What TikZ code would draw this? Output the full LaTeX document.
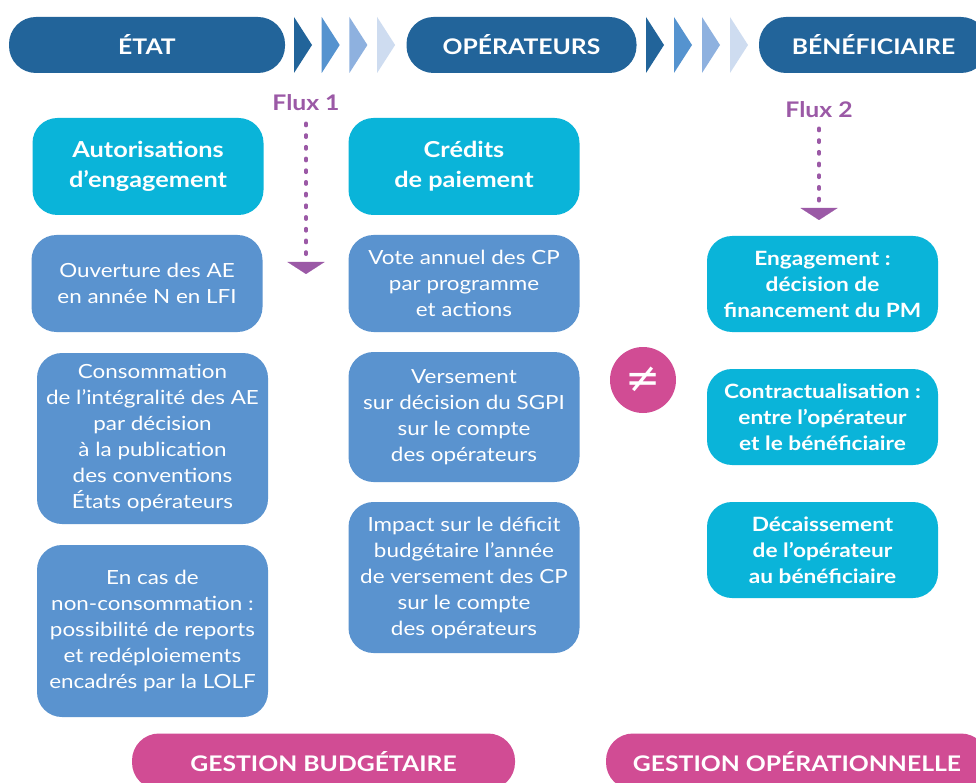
\documentclass[tikz,border=0pt]{standalone}
\usepackage{fontspec}
\setmainfont{Lato}[FakeStretch=1.15]
\newfontfamily\symfont{DejaVu Sans}
\usetikzlibrary{arrows.meta}
\definecolor{etatblue}{HTML}{22649A}
\definecolor{chevb}{HTML}{5593CF}
\definecolor{chevc}{HTML}{8EB1DF}
\definecolor{chevd}{HTML}{CEDCF0}
\definecolor{cyanbox}{HTML}{0AB4D9}
\definecolor{bluebox}{HTML}{5A93CF}
\definecolor{fluxpurple}{HTML}{9B59A6}
\definecolor{gestpink}{HTML}{D14C94}
\tikzset{
	bar/.style 2 args={fill=#1,rounded corners=27pt,minimum width=#2,minimum height=56pt,inner sep=0pt,text=white,font=\fontsize{21.5}{25}\selectfont\bfseries},
	blk/.style 2 args={fill=#1,rounded corners=25pt,minimum width=231pt,minimum height=#2,inner sep=0pt,text=white,align=center,font=\fontsize{19.5}{26}\selectfont},
	hd/.style={font=\fontsize{22}{30}\selectfont\bfseries},
	rb/.style={font=\fontsize{19.7}{26}\selectfont\bfseries},
	fluxlbl/.style={text=fluxpurple,inner sep=2pt,font=\fontsize{21.5}{24}\selectfont\bfseries},
	fluxline/.style={draw=fluxpurple,line width=3.5pt,line cap=round,dash pattern=on 2.3pt off 9.4pt,-{Triangle[width=37pt,length=12pt,line width=0.1pt]}}
}
\begin{document}
\begin{tikzpicture}[x=1pt,y=-1pt]
	\clip (0,0) rectangle (976,783);
	\fill[white] (0,0) rectangle (976,783);

	\node [bar={etatblue}{276pt}] (etat) at (147,45) {ÉTAT};
	\node [bar={etatblue}{230pt}] (oper) at (521.5,45) {OPÉRATEURS};
	\node [bar={etatblue}{229pt}] (benef) at (873.5,45) {BÉNÉFICIAIRE};
	\foreach \c [count=\i] in {etatblue,chevb,chevc,chevd} {
		\fill[\c] ({294+27.7*(\i-1)},17) -- ++(18,28) -- ++(-18,28) -- cycle;
		\fill[\c] ({646+28*(\i-1)},17) -- ++(18,28) -- ++(-18,28) -- cycle;
	}

	\node [fluxlbl] (flux1) at (306,103) {Flux 1};
	\coordinate (f1tip) at (306,274);
	\draw [fluxline,shorten <=10pt] (flux1.south) -- (f1tip);
	\node [fluxlbl] (flux2) at (819,110) {Flux 2};
	\coordinate (f2tip) at (819,220);
	\draw [fluxline,shorten <=8pt] (flux2.south) -- (f2tip);

	\node [blk={cyanbox}{97pt},hd] (ae) at (148,166.5) {Autorisations\\d’engagement};
	\node [blk={cyanbox}{97pt},hd] (cp) at (464,166.5) {Crédits\\de paiement};

	\node [blk={bluebox}{97pt}] (ouv) at (147,283.5) {Ouverture des AE\\en année N en LFI};
	\node [blk={bluebox}{171pt}] (conso) at (152.5,438.5) {Consommation\\de l’intégralité des AE\\par décision\\à la publication\\des conventions\\États opérateurs};
	\node [blk={bluebox}{172pt}] (encas) at (152.5,631) {En cas de\\non-consommation :\\possibilité de reports\\et redéploiements\\encadrés par la LOLF};

	\node [blk={bluebox}{97pt}] (vote) at (464,283.5) {Vote annuel des CP\\par programme\\et actions};
	\node [blk={bluebox}{130pt}] (vers) at (464,417) {Versement\\sur décision du SGPI\\sur le compte\\des opérateurs};
	\node [blk={bluebox}{151pt}] (impact) at (464,577.5) {Impact sur le déficit\\budgétaire l’année\\de versement des CP\\sur le compte\\des opérateurs};

	\node [circle,fill=gestpink,minimum size=66pt,inner sep=0pt,text=white,font=\symfont\fontsize{42}{42}\selectfont] (neq) at (643,380) {≠};

	\node [blk={cyanbox}{96pt},rb] (engag) at (822.5,284) {Engagement :\\décision de\\financement du PM};
	\node [blk={cyanbox}{96pt},rb] (contr) at (822.5,417) {Contractualisation :\\entre l’opérateur\\et le bénéficiaire};
	\node [blk={cyanbox}{96pt},rb] (decai) at (822.5,550) {Décaissement\\de l’opérateur\\au bénéficiaire};

	\node [bar={gestpink}{383pt}] (gbud) at (323.5,761.5) {GESTION BUDGÉTAIRE};
	\node [bar={gestpink}{382pt}] (gop) at (797,761.5) {GESTION OPÉRATIONNELLE};
\end{tikzpicture}
\end{document}
